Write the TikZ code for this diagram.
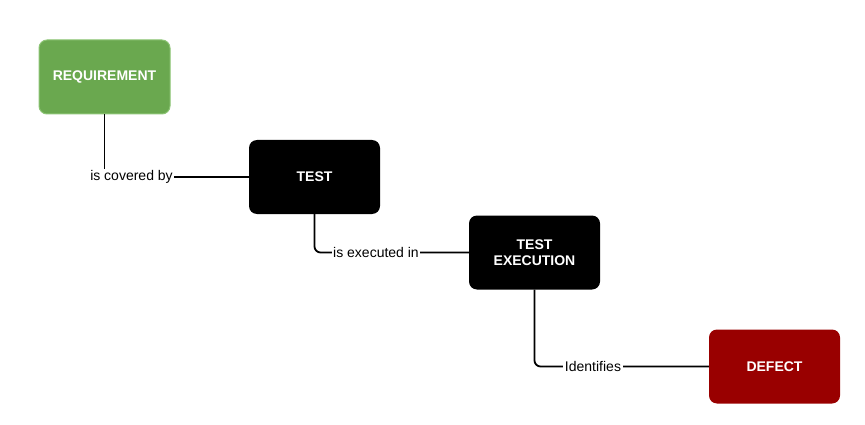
\documentclass[tikz,border=0pt]{standalone}
\usepackage{fontspec}
\setmainfont{Liberation Sans}
\begin{document}
\begin{tikzpicture}[x=1pt,y=-1pt,
  box/.style={rounded corners=8pt, minimum width=131pt, minimum height=74pt, inner sep=0pt, font=\fontsize{14}{16}\selectfont\bfseries, text=white, align=center},
  conn/.style={line width=1.8pt, rounded corners=6pt},
  lbl/.style={fill=white, inner sep=1.5pt, font=\fontsize{14}{16}\selectfont}]
\useasboundingbox (0,0) rectangle (865,425);
\definecolor{reqgreen}{HTML}{6AA84F}
\definecolor{reqborder}{HTML}{8CC474}
\definecolor{defred}{HTML}{990000}
\node[box, fill=reqgreen, draw=reqborder, line width=1pt] (req) at (104.5,77) {REQUIREMENT};
\node[box, fill=black] (test) at (314.5,177) {TEST};
\node[box, fill=black] (exec) at (534.5,252.5) {TEST\\EXECUTION};
\node[box, fill=defred] (def) at (774.5,366.5) {DEFECT};
\coordinate (c1) at (req.south |- test.west);
\coordinate (c2) at (test.south |- exec.west);
\coordinate (c3) at (exec.south |- def.west);
\draw[line width=1.8pt] (req.south) -- (c1) -- (test.west);
\draw[conn] (test.south) -- (c2) -- (exec.west);
\draw[conn] (exec.south) -- (c3) -- (def.west);
\node[lbl] (l1) at (131.5,177) {is covered by};
\node[lbl] (l2) at (376,252.5) {is executed in};
\node[lbl] (l3) at (593,366.5) {Identifies};
\end{tikzpicture}
\end{document}
